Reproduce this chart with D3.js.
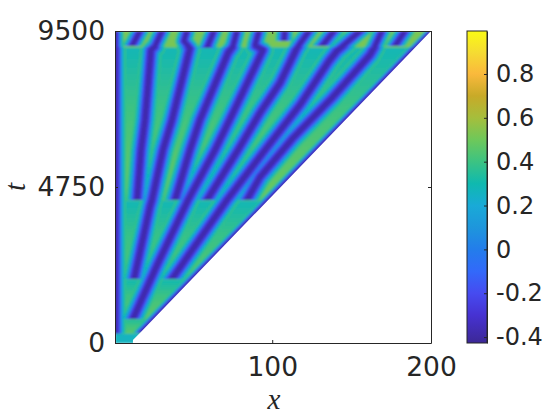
<!DOCTYPE html>
<html>
<head>
<meta charset="utf-8">
<script src="https://cdn.jsdelivr.net/npm/d3@7"></script>
<style>
body { margin: 0; background: #fff; }
</style>
</head>
<body>
<div id="chart"></div>
<script>
// colour bar, values and colours
const colorValues = [-0.427, -0.3, -0.2, -0.1, 0, 0.1, 0.2, 0.3, 0.4, 0.5, 0.6, 0.7, 0.8, 0.9, 0.996];
const colorStops = ['#3c2896', '#4632d2', '#464bf0', '#3269fa', '#237deb', '#1e96dc', '#19aad7', '#0fb9af', '#3cc382', '#6ec85a', '#a5be3c', '#c8aa28', '#fab93c', '#f5dc32', '#fafa14'];
const colorTicks = [-0.4, -0.2, 0, 0.2, 0.4, 0.6, 0.8];
const colorTickLabels = ['-0.4', '-0.2', '0', '0.2', '0.4', '0.6', '0.8'];

const xTicks = [100, 200];
const tTicks = [0, 4750, 9500];

// wave front, [x, t]
const front = [[1, 0], [12.3, 0], [12.3, 90], [16.7, 305], [200, 9500], [1, 9500]];

// background level per time band: t start, t end, level at start, level at end
const bandStart = [0, 300, 731, 1949, 4354, 9013];
const bandEnd = [300, 731, 1949, 4354, 9013, 9500];
const bandLow = [0.26, 0.46, 0.48, 0.46, 0.5, 0.52];
const bandHigh = [0.26, 0.32, 0.29, 0.28, 0.28, 0.52];
const topBandStart = 9013;

// minima of the field, [x, t]
const edgeLeft = [[1, 300], [1, 9500]];
const edgeFront = [[16.7, 305], [200, 9500]];
const stripe1 = [[14.9, 4354], [17.4, 5877], [19.9, 6790], [23.7, 8922], [26.2, 9044], [30.6, 9500]];
const stripe2 = [[13, 1949], [23, 4141], [24.3, 4354], [31.2, 5877], [36.9, 6790], [48.2, 8983], [44.4, 9196], [46.3, 9500]];
const stripe3 = [[38.8, 4354], [48.2, 5877], [54.5, 6790], [72.2, 8831], [75.3, 9044], [77.8, 9500]];
const stripe4 = [[12.3, 731], [28.1, 2436], [47, 4354], [64, 5877], [75.3, 7004], [94.2, 8922], [89.2, 9074], [91.7, 9500]];
const stripe5 = [[59, 4354], [78.5, 5877], [92.3, 7004], [104.9, 7917], [115.6, 8983], [123.2, 9500]];
const stripe6 = [[36.9, 1949], [71.5, 4354], [95.5, 5877], [117.5, 7247], [135.8, 8587], [140.8, 8891], [155.3, 9500]];
const stripe7 = [[84.1, 4354], [92.3, 5055], [113.1, 6242], [137.6, 7460], [161.6, 8770], [164.1, 8983], [169.1, 9500]];
const top1 = [[11.7, 9044], [16.7, 9500]];
const top2 = [[58.9, 8983], [63.3, 9500]];
const top3 = [[107.4, 9196], [108, 9500]];
const top4 = [[131.4, 9044], [138.9, 9500]];
const top5 = [[177.3, 9044], [183.6, 9500]];

const stripes = [edgeLeft, edgeFront, stripe1, stripe2, stripe3, stripe4, stripe5, stripe6, stripe7, top1, top2, top3, top4, top5];

const width = 560, height = 420;
const left = 115, right = 431, topY = 31, bottom = 343;

const svg = d3.select('#chart')
    .append('svg')
    .attr('width', width)
    .attr('height', height)
    .style('display', 'block');

const defs = svg.append('defs');

const scaleX = d3.scaleLinear().domain([1, 200]).range([left, right]);
const scaleT = d3.scaleLinear().domain([0, 9500]).range([bottom, topY]);
const scaleColor = d3.scaleLinear().domain(colorValues).range(colorStops);

const line = d3.line().x(d => scaleX(d[0])).y(d => scaleT(d[1]));

// blur softens the stroke steps
defs.append('filter')
    .attr('id', 'soft')
    .attr('filterUnits', 'userSpaceOnUse')
    .attr('x', 0).attr('y', 0).attr('width', width).attr('height', height)
    .append('feGaussianBlur')
    .attr('stdDeviation', 1);

defs.append('clipPath')
    .attr('id', 'frontClip')
    .append('path')
    .attr('shape-rendering', 'crispEdges')
    .attr('d', line(front) + 'Z');

// one clip per stripe so its ends are cut flat in t
stripes.forEach((s, i) => {
    const ext = d3.extent(s, d => d[1]);
    defs.append('clipPath')
        .attr('id', 'stripe' + i)
        .append('rect')
        .attr('x', 0)
        .attr('width', width)
        .attr('y', scaleT(ext[1]))
        .attr('height', scaleT(ext[0]) - scaleT(ext[1]));
});

defs.append('clipPath')
    .attr('id', 'mainPart')
    .append('rect')
    .attr('x', 0).attr('width', width)
    .attr('y', scaleT(topBandStart))
    .attr('height', height);

defs.append('clipPath')
    .attr('id', 'topPart')
    .append('rect')
    .attr('x', 0).attr('width', width)
    .attr('y', 0)
    .attr('height', scaleT(topBandStart));

const field = svg.append('g').attr('clip-path', 'url(#frontClip)');
const inner = field.append('g').attr('filter', 'url(#soft)');

bandStart.forEach((b, i) => {
    const grad = defs.append('linearGradient')
        .attr('id', 'band' + i)
        .attr('x1', 0).attr('x2', 0).attr('y1', 1).attr('y2', 0);
    const mid = bandLow[i] - (bandLow[i] - bandHigh[i]) * 0.45;
    [[0, bandLow[i]], [0.6, mid], [1, bandHigh[i]]].forEach(st => {
        grad.append('stop')
            .attr('offset', st[0])
            .attr('stop-color', scaleColor(st[1]));
    });
    inner.append('rect')
        .attr('x', left)
        .attr('width', right - left)
        .attr('y', scaleT(bandEnd[i]))
        .attr('height', scaleT(b) - scaleT(bandEnd[i]) + 0.5)
        .attr('fill', 'url(#band' + i + ')');
});

// cross section of a stripe, outermost first
const profileLevel = [0.38, 0.29, 0.2, 0.1, 0, -0.1, -0.2, -0.3, -0.38];
const profileWidth = [22, 18.5, 16, 14, 12.5, 11, 9.5, 7.5, 4.5];

function drawStripes(parent, clipId, factor) {
    const g = parent.append('g').attr('clip-path', 'url(#' + clipId + ')');
    profileLevel.forEach((v, k) => {
        g.append('g')
            .selectAll('path')
            .data(stripes)
            .enter()
            .append('path')
            .attr('d', line)
            .attr('clip-path', (d, i) => 'url(#stripe' + i + ')')
            .attr('fill', 'none')
            .attr('stroke', scaleColor(v))
            // the front only shows a thin blue rim
            .attr('stroke-width', d => profileWidth[k] * factor * (d === edgeFront ? 0.5 : 1))
            .attr('stroke-linecap', 'square')
            .attr('stroke-linejoin', 'round');
    });
}

drawStripes(inner, 'mainPart', 1);
drawStripes(inner, 'topPart', 0.8);

// axes
const ink = '#262626';
const fontFamily = '"DejaVu Sans", sans-serif';

function styleAxis(g, size) {
    g.selectAll('.domain').attr('stroke', ink);
    g.selectAll('.tick line').attr('stroke', ink);
    g.selectAll('text')
        .attr('fill', ink)
        .style('font-family', fontFamily)
        .style('font-size', size + 'px');
}

svg.append('g')
    .attr('transform', 'translate(0,' + bottom + ')')
    .call(d3.axisBottom(scaleX).tickValues(xTicks).tickSize(-3).tickSizeOuter(0).tickPadding(14))
    .call(styleAxis, 26.5);

svg.append('g')
    .attr('transform', 'translate(0,' + topY + ')')
    .call(d3.axisTop(scaleX).tickValues(xTicks).tickSize(-3).tickSizeOuter(0).tickFormat(''))
    .call(styleAxis, 26.5);

svg.append('g')
    .attr('transform', 'translate(' + left + ',0)')
    .call(d3.axisLeft(scaleT).tickValues(tTicks).tickSize(-3).tickSizeOuter(0).tickPadding(10))
    .call(styleAxis, 26.5)
    .call(g => g.selectAll('text').text(d => d));

svg.append('g')
    .attr('transform', 'translate(' + right + ',0)')
    .call(d3.axisRight(scaleT).tickValues(tTicks).tickSize(-3).tickSizeOuter(0).tickFormat(''))
    .call(styleAxis, 26.5);

svg.append('text')
    .attr('x', 274)
    .attr('y', 409)
    .attr('text-anchor', 'middle')
    .attr('fill', ink)
    .style('font-family', '"Liberation Serif", serif')
    .style('font-style', 'italic')
    .style('font-size', '29px')
    .text('x');

svg.append('text')
    .attr('transform', 'translate(25,187) rotate(-90)')
    .attr('text-anchor', 'middle')
    .attr('fill', ink)
    .style('font-family', '"Liberation Serif", serif')
    .style('font-style', 'italic')
    .style('font-size', '29px')
    .text('t');

// colour bar
const barLeft = 467, barRight = 487;
const scaleBar = d3.scaleLinear().domain([-0.427, 0.996]).range([bottom, topY]);

const barGrad = defs.append('linearGradient')
    .attr('id', 'barGrad')
    .attr('x1', 0).attr('x2', 0).attr('y1', 1).attr('y2', 0);

barGrad.selectAll('stop')
    .data(colorValues)
    .enter()
    .append('stop')
    .attr('offset', d => (d + 0.427) / (0.996 + 0.427))
    .attr('stop-color', d => scaleColor(d));

svg.append('rect')
    .attr('x', barLeft)
    .attr('y', topY)
    .attr('width', barRight - barLeft)
    .attr('height', bottom - topY)
    .attr('fill', 'url(#barGrad)')
    .attr('stroke', ink)
    .attr('stroke-width', 1);

svg.append('g')
    .attr('transform', 'translate(' + barRight + ',0)')
    .call(d3.axisRight(scaleBar).tickValues(colorTicks).tickSize(-3).tickSizeOuter(0).tickPadding(9)
        .tickFormat((d, i) => colorTickLabels[i]))
    .call(styleAxis, 24);
</script>
</body>
</html>
